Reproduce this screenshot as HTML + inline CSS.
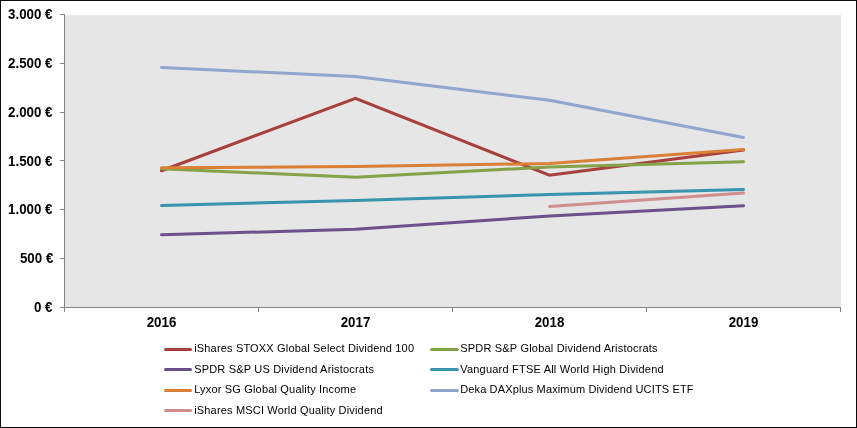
<!DOCTYPE html>
<html lang="de">
<head>
<meta charset="utf-8">
<title>Dividenden ETF Vergleich</title>
<style>
html,body{margin:0;padding:0;background:#fff;}
body{width:857px;height:428px;overflow:hidden;}
svg{display:block;}
text{font-family:"Liberation Sans",sans-serif;fill:#000;}
.ax{font-size:13.33px;font-weight:bold;}
.lg{font-size:11px;}
</style>
</head>
<body>
<svg width="857" height="428" viewBox="0 0 857 428">
<rect x="0" y="0" width="857" height="428" fill="#fff"/>
<rect x="0.5" y="0.5" width="856" height="427" fill="none" stroke="#0A0A0A" stroke-width="1" shape-rendering="crispEdges"/>
<rect x="65" y="15" width="776" height="292" fill="#E6E6E6" shape-rendering="crispEdges"/>
<g stroke="#868686" stroke-width="1" fill="none" shape-rendering="crispEdges">
<line x1="64.5" y1="14" x2="64.5" y2="312"/>
<line x1="60" y1="307.5" x2="841" y2="307.5"/>
<line x1="60" y1="14.5" x2="65" y2="14.5"/>
<line x1="60" y1="63.5" x2="65" y2="63.5"/>
<line x1="60" y1="112.5" x2="65" y2="112.5"/>
<line x1="60" y1="160.5" x2="65" y2="160.5"/>
<line x1="60" y1="209.5" x2="65" y2="209.5"/>
<line x1="60" y1="258.5" x2="65" y2="258.5"/>
<line x1="258.5" y1="307" x2="258.5" y2="312"/>
<line x1="452.5" y1="307" x2="452.5" y2="312"/>
<line x1="646.5" y1="307" x2="646.5" y2="312"/>
<line x1="840.5" y1="307" x2="840.5" y2="312"/>
</g>
<g class="ax" text-anchor="end">
<text transform="translate(52.5,19) scale(1,1.1)">3.000 €</text>
<text transform="translate(52.5,68) scale(1,1.1)">2.500 €</text>
<text transform="translate(52.5,117) scale(1,1.1)">2.000 €</text>
<text transform="translate(52.5,166) scale(1,1.1)">1.500 €</text>
<text transform="translate(52.5,214) scale(1,1.1)">1.000 €</text>
<text transform="translate(53.3,263) scale(1,1.1)">500 €</text>
<text transform="translate(52.5,312) scale(1,1.1)">0 €</text>
</g>
<g class="ax" text-anchor="middle">
<text transform="translate(161.5,327) scale(1,1.1)">2016</text>
<text transform="translate(355.5,327) scale(1,1.1)">2017</text>
<text transform="translate(549.5,327) scale(1,1.1)">2018</text>
<text transform="translate(743.5,327) scale(1,1.1)">2019</text>
</g>
<g fill="none" stroke-linecap="round" stroke-linejoin="miter">
<polyline stroke="#A63A37" stroke-width="3" points="161.5,170.77 355.5,98.3 549.5,175.26 743.5,150.06"/>
<polyline stroke="#AA4643" stroke-width="1" points="161.5,170.77 355.5,98.3 549.5,175.26 743.5,150.06"/>
<polyline stroke="#82A043" stroke-width="3" points="161.5,168.81 355.5,177.31 549.5,166.96 743.5,161.68"/>
<polyline stroke="#89A54E" stroke-width="1" points="161.5,168.81 355.5,177.31 549.5,166.96 743.5,161.68"/>
<polyline stroke="#684D88" stroke-width="3" points="161.5,234.64 355.5,229.37 549.5,215.99 743.5,205.63"/>
<polyline stroke="#71588F" stroke-width="1" points="161.5,234.64 355.5,229.37 549.5,215.99 743.5,205.63"/>
<polyline stroke="#3592AB" stroke-width="3" points="161.5,205.44 355.5,200.56 549.5,194.4 743.5,189.42"/>
<polyline stroke="#4198AF" stroke-width="1" points="161.5,205.44 355.5,200.56 549.5,194.4 743.5,189.42"/>
<polyline stroke="#DA7D30" stroke-width="3" points="161.5,167.84 355.5,166.57 549.5,163.49 743.5,149.48"/>
<polyline stroke="#DB843D" stroke-width="1" points="161.5,167.84 355.5,166.57 549.5,163.49 743.5,149.48"/>
<polyline stroke="#8DA4CD" stroke-width="3" points="161.5,67.53 355.5,76.52 549.5,100.25 743.5,137.56"/>
<polyline stroke="#93A9CF" stroke-width="1" points="161.5,67.53 355.5,76.52 549.5,100.25 743.5,137.56"/>
<polyline stroke="#CF8D8C" stroke-width="3" points="549.5,206.42 743.5,193.03"/>
<polyline stroke="#D19392" stroke-width="1" points="549.5,206.42 743.5,193.03"/>
</g>
<g fill="none" stroke-linecap="round">
<line x1="165.5" y1="349.5" x2="190.5" y2="349.5" stroke="#A43835" stroke-width="3"/>
<line x1="165.5" y1="349.5" x2="190.5" y2="349.5" stroke="#AA4643" stroke-width="1"/>
<line x1="431.5" y1="349.5" x2="457.3" y2="349.5" stroke="#809E41" stroke-width="3"/>
<line x1="431.5" y1="349.5" x2="457.3" y2="349.5" stroke="#89A54E" stroke-width="1"/>
<line x1="165.5" y1="369.5" x2="190.5" y2="369.5" stroke="#664B87" stroke-width="3"/>
<line x1="165.5" y1="369.5" x2="190.5" y2="369.5" stroke="#71588F" stroke-width="1"/>
<line x1="431.5" y1="369.5" x2="457.3" y2="369.5" stroke="#3390A9" stroke-width="3"/>
<line x1="431.5" y1="369.5" x2="457.3" y2="369.5" stroke="#4198AF" stroke-width="1"/>
<line x1="165.5" y1="390.5" x2="190.5" y2="390.5" stroke="#D87B2E" stroke-width="3"/>
<line x1="165.5" y1="390.5" x2="190.5" y2="390.5" stroke="#DB843D" stroke-width="1"/>
<line x1="431.5" y1="390.5" x2="457.3" y2="390.5" stroke="#8BA3CB" stroke-width="3"/>
<line x1="431.5" y1="390.5" x2="457.3" y2="390.5" stroke="#93A9CF" stroke-width="1"/>
<line x1="165.5" y1="410.5" x2="190.5" y2="410.5" stroke="#CE8B8A" stroke-width="3"/>
<line x1="165.5" y1="410.5" x2="190.5" y2="410.5" stroke="#D19392" stroke-width="1"/>
</g>
<g class="lg">
<text x="194.2" y="352" textLength="219.8" lengthAdjust="spacing">iShares STOXX Global Select Dividend 100</text>
<text x="460.2" y="352" textLength="197.4" lengthAdjust="spacing">SPDR S&amp;P Global Dividend Aristocrats</text>
<text x="194.2" y="373" textLength="179.7" lengthAdjust="spacing">SPDR S&amp;P US Dividend Aristocrats</text>
<text x="460.2" y="373" textLength="203.4" lengthAdjust="spacing">Vanguard FTSE All World High Dividend</text>
<text x="194.2" y="393" textLength="161.8" lengthAdjust="spacing">Lyxor SG Global Quality Income</text>
<text x="460.2" y="393" textLength="233.3" lengthAdjust="spacing">Deka DAXplus Maximum Dividend UCITS ETF</text>
<text x="194.2" y="414" textLength="188.4" lengthAdjust="spacing">iShares MSCI World Quality Dividend</text>
</g>
</svg>
</body>
</html>
